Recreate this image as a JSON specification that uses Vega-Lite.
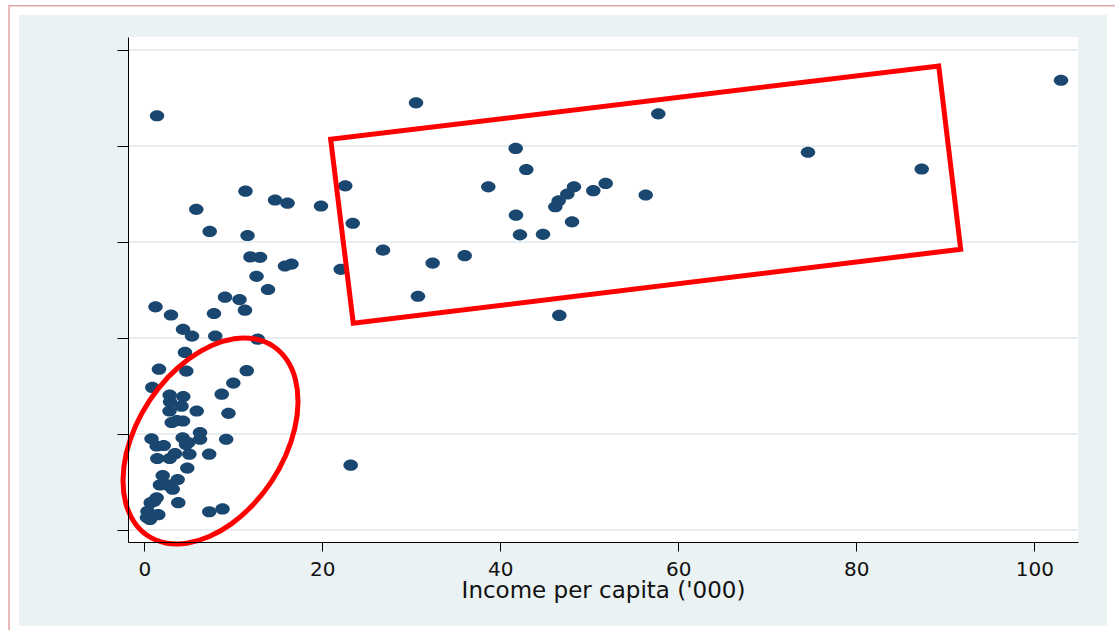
{
  "$schema": "https://vega.github.io/schema/vega-lite/v6.json",
  "width": 950,
  "height": 505,
  "autosize": {"type": "none"},
  "padding": {"left": 128, "top": 37, "right": 37, "bottom": 88},
  "background": "white",
  "config": {"view": {"stroke": null}},
  "datasets": {
    "panel": [{"x": -14.08, "x2": 108.17, "y": -20.0, "y2": 107.29}],
    "frame": [{"x": -15.2, "x2": 130, "y": -30, "y2": 109.2}],
    "plotarea": [{"x": -1.831, "x2": 104.91, "y": -2.5, "y2": 102.71}],
    "grid": [
      {"x": -1.831, "x2": 104.91, "y": 0},
      {"x": -1.831, "x2": 104.91, "y": 20},
      {"x": -1.831, "x2": 104.91, "y": 40},
      {"x": -1.831, "x2": 104.91, "y": 60},
      {"x": -1.831, "x2": 104.91, "y": 80},
      {"x": -1.831, "x2": 104.91, "y": 100}
    ],
    "countries": [
      {"x": 1.43, "y": 86.3}, {"x": 30.53, "y": 89.0}, {"x": 103.0, "y": 93.7}, {"x": 57.75, "y": 86.7},
      {"x": 74.57, "y": 78.7}, {"x": 87.35, "y": 75.2}, {"x": 41.73, "y": 79.5}, {"x": 42.92, "y": 75.1},
      {"x": 38.65, "y": 71.5}, {"x": 22.58, "y": 71.7}, {"x": 11.37, "y": 70.6}, {"x": 14.69, "y": 68.75},
      {"x": 16.09, "y": 68.1}, {"x": 19.85, "y": 67.5}, {"x": 5.84, "y": 66.8}, {"x": 7.35, "y": 62.2},
      {"x": 11.6, "y": 61.35}, {"x": 23.42, "y": 63.9}, {"x": 41.76, "y": 65.6}, {"x": 42.21, "y": 61.5},
      {"x": 44.8, "y": 61.6}, {"x": 46.18, "y": 67.35}, {"x": 46.56, "y": 68.6}, {"x": 47.53, "y": 70.0},
      {"x": 48.28, "y": 71.5}, {"x": 48.06, "y": 64.2}, {"x": 50.45, "y": 70.7}, {"x": 51.84, "y": 72.2},
      {"x": 56.34, "y": 69.8}, {"x": 26.82, "y": 58.3}, {"x": 32.4, "y": 55.6}, {"x": 36.0, "y": 57.15},
      {"x": 30.75, "y": 48.7}, {"x": 46.63, "y": 44.7}, {"x": 22.07, "y": 54.3}, {"x": 11.93, "y": 56.9},
      {"x": 13.0, "y": 56.8}, {"x": 15.81, "y": 55.0}, {"x": 16.54, "y": 55.4}, {"x": 12.61, "y": 52.85},
      {"x": 13.9, "y": 50.1}, {"x": 9.07, "y": 48.5}, {"x": 10.7, "y": 48.0}, {"x": 11.31, "y": 45.8},
      {"x": 1.26, "y": 46.5}, {"x": 3.0, "y": 44.8}, {"x": 7.83, "y": 45.1}, {"x": 4.35, "y": 41.8},
      {"x": 5.36, "y": 40.4}, {"x": 7.97, "y": 40.4}, {"x": 12.74, "y": 39.75}, {"x": 4.57, "y": 37.0},
      {"x": 1.65, "y": 33.5}, {"x": 4.72, "y": 33.1}, {"x": 11.51, "y": 33.2}, {"x": 10.0, "y": 30.6},
      {"x": 0.9, "y": 29.7}, {"x": 8.7, "y": 28.3}, {"x": 2.85, "y": 28.1}, {"x": 4.38, "y": 27.8},
      {"x": 2.89, "y": 26.7}, {"x": 4.18, "y": 25.8}, {"x": 2.83, "y": 24.8}, {"x": 5.89, "y": 24.8},
      {"x": 9.46, "y": 24.3}, {"x": 3.08, "y": 22.4}, {"x": 4.35, "y": 22.7}, {"x": 3.67, "y": 22.8},
      {"x": 0.81, "y": 19.0}, {"x": 1.39, "y": 17.5}, {"x": 2.18, "y": 17.6}, {"x": 4.31, "y": 19.2},
      {"x": 4.94, "y": 18.2}, {"x": 6.26, "y": 20.3}, {"x": 6.26, "y": 18.9}, {"x": 4.69, "y": 17.8},
      {"x": 9.2, "y": 18.9}, {"x": 5.06, "y": 15.8}, {"x": 7.29, "y": 15.8}, {"x": 1.46, "y": 14.9},
      {"x": 2.85, "y": 14.9}, {"x": 3.45, "y": 15.9}, {"x": 4.83, "y": 12.9}, {"x": 2.07, "y": 11.35},
      {"x": 3.75, "y": 10.5}, {"x": 1.76, "y": 9.4}, {"x": 3.19, "y": 8.5}, {"x": 2.61, "y": 9.4},
      {"x": 1.39, "y": 6.7}, {"x": 0.72, "y": 5.7}, {"x": 3.82, "y": 5.7}, {"x": 0.36, "y": 3.9},
      {"x": 1.57, "y": 3.2}, {"x": 0.64, "y": 2.2}, {"x": 7.3, "y": 3.8}, {"x": 8.79, "y": 4.4},
      {"x": 23.19, "y": 13.5}, {"x": 0.3, "y": 2.6}, {"x": 1.1, "y": 6.0}
    ],
    "box": [
      {"i": 0, "x": 20.94, "y": 81.40},
      {"i": 1, "x": 89.26, "y": 96.67},
      {"i": 2, "x": 91.73, "y": 58.48},
      {"i": 3, "x": 23.48, "y": 43.06},
      {"i": 4, "x": 20.94, "y": 81.40}
    ],
    "oval": [
      {"i": 0, "x": 14.485, "y": 38.275}, {"i": 1, "x": 12.47, "y": 39.78}, {"i": 2, "x": 10.112, "y": 39.84},
      {"i": 3, "x": 7.573, "y": 38.447}, {"i": 4, "x": 5.024, "y": 35.697}, {"i": 5, "x": 2.639, "y": 31.777},
      {"i": 6, "x": 0.582, "y": 26.957}, {"i": 7, "x": -1.007, "y": 21.563}, {"i": 8, "x": -2.022, "y": 15.961},
      {"i": 9, "x": -2.391, "y": 10.537}, {"i": 10, "x": -2.09, "y": 5.658}, {"i": 11, "x": -1.14, "y": 1.656},
      {"i": 12, "x": 0.395, "y": -1.195}, {"i": 13, "x": 2.41, "y": -2.70}, {"i": 14, "x": 4.768, "y": -2.76},
      {"i": 15, "x": 7.307, "y": -1.367}, {"i": 16, "x": 9.857, "y": 1.383}, {"i": 17, "x": 12.241, "y": 5.303},
      {"i": 18, "x": 14.298, "y": 10.123}, {"i": 19, "x": 15.887, "y": 15.517}, {"i": 20, "x": 16.902, "y": 21.119},
      {"i": 21, "x": 17.271, "y": 26.543}, {"i": 22, "x": 16.97, "y": 31.422}, {"i": 23, "x": 16.02, "y": 35.424}
    ]
  },
  "encoding": {
    "x": {
      "field": "x", "type": "quantitative",
      "scale": {"domain": [-1.831, 104.91], "nice": false, "zero": false},
      "axis": {
        "values": [0, 20, 40, 60, 80, 100],
        "grid": false,
        "zindex": 1,
        "domainColor": "#000000", "domainWidth": 1,
        "tickColor": "#000000", "tickSize": 9, "tickWidth": 1,
        "labelFont": "DejaVu Sans", "labelFontSize": 20, "labelColor": "#111111",
        "labelBaseline": "alphabetic", "labelPadding": 24,
        "labelFlush": false, "labelOverlap": false,
        "title": "Income per capita ('000)",
        "titleFont": "DejaVu Sans", "titleFontSize": 23, "titleFontWeight": "normal", "titleColor": "#111111",
        "titleBaseline": "alphabetic", "titleY": 55
      }
    },
    "y": {
      "field": "y", "type": "quantitative",
      "scale": {"domain": [-2.5, 102.71], "nice": false, "zero": false},
      "axis": {
        "values": [0, 20, 40, 60, 80, 100],
        "grid": false,
        "zindex": 1,
        "labels": false,
        "title": null,
        "domainColor": "#000000", "domainWidth": 1,
        "tickColor": "#000000", "tickSize": 11, "tickWidth": 1
      }
    }
  },
  "layer": [
    {
      "data": {"name": "panel"},
      "mark": {"type": "rect", "fill": "#EAF2F3", "stroke": null},
      "encoding": {"x2": {"field": "x2"}, "y2": {"field": "y2"}}
    },
    {
      "data": {"name": "frame"},
      "mark": {"type": "rect", "fill": null, "fillOpacity": 0, "stroke": "#E2A4A4", "strokeWidth": 1.5},
      "encoding": {"x2": {"field": "x2"}, "y2": {"field": "y2"}}
    },
    {
      "data": {"name": "plotarea"},
      "mark": {"type": "rect", "fill": "#FFFFFF", "stroke": null},
      "encoding": {"x2": {"field": "x2"}, "y2": {"field": "y2"}}
    },
    {
      "data": {"name": "grid"},
      "mark": {"type": "rule", "color": "#E7EEF2", "strokeWidth": 2},
      "encoding": {"x2": {"field": "x2"}}
    },
    {
      "data": {"name": "countries"},
      "mark": {
        "type": "point", "filled": true, "opacity": 1,
        "shape": "M-1,0A1,0.77,0,1,1,1,0A1,0.77,0,1,1,-1,0Z",
        "size": 210, "color": "#1A476F", "strokeWidth": 0
      },
      "encoding": {}
    },
    {
      "data": {"name": "box"},
      "mark": {"type": "line", "color": "#FF0000", "strokeWidth": 5, "strokeJoin": "miter", "strokeCap": "square"},
      "encoding": {"order": {"field": "i", "type": "quantitative"}}
    },
    {
      "data": {"name": "oval"},
      "mark": {"type": "line", "color": "#FF0000", "strokeWidth": 5, "interpolate": "cardinal-closed"},
      "encoding": {"order": {"field": "i", "type": "quantitative"}}
    }
  ]
}
